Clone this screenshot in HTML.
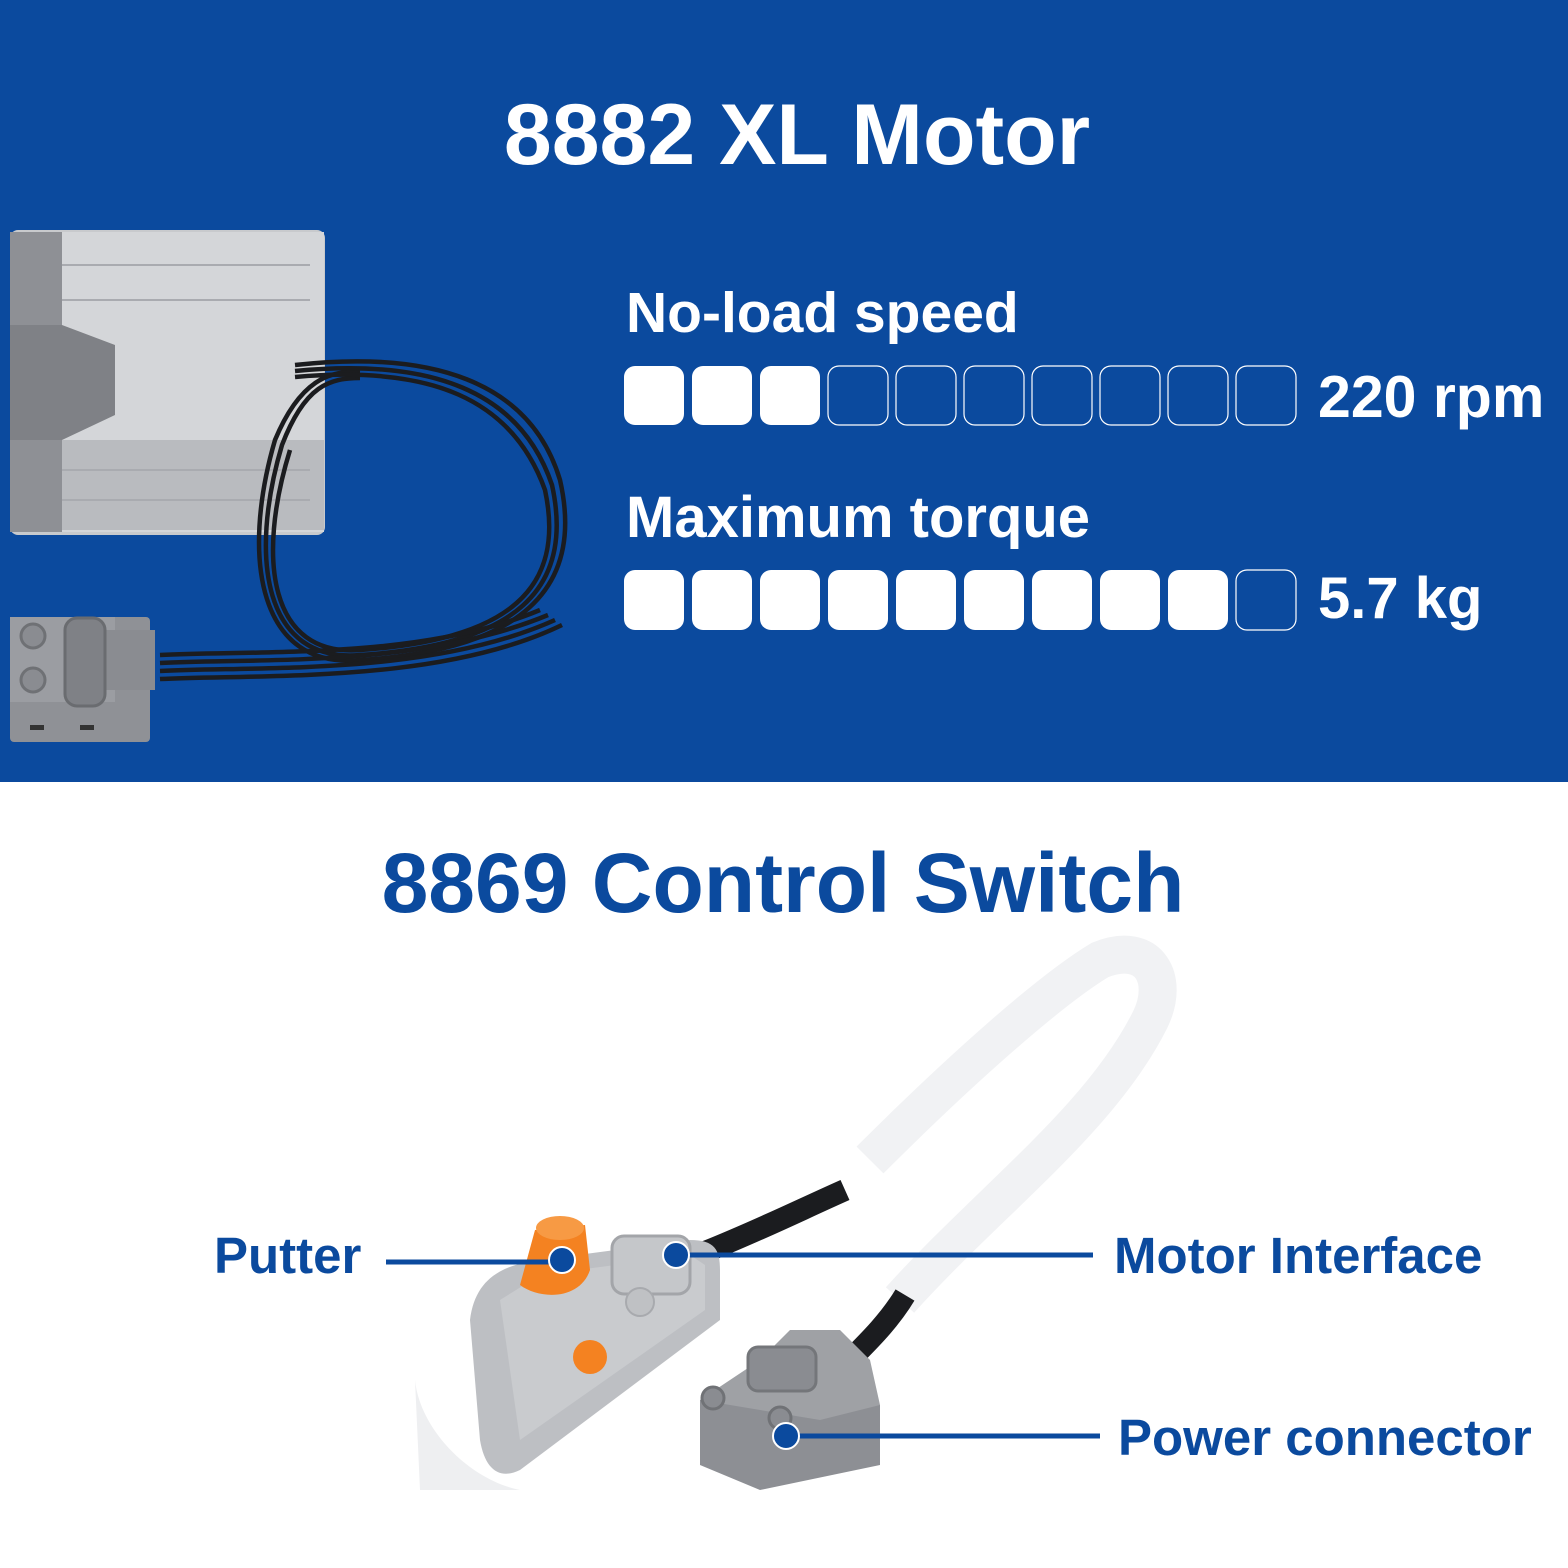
<!DOCTYPE html>
<html><head><style>
body{margin:0;width:1568px;height:1568px;position:relative;background:#fff;font-family:"Liberation Sans",sans-serif;overflow:hidden}
.top{position:absolute;left:0;top:0;width:1568px;height:782px;background:#0b4a9e}
.t{position:absolute;font-weight:bold;white-space:nowrap}
</style></head><body>
<div class="top"></div>
<div class="t" style="left:0;width:1594px;text-align:center;top:86px;font-size:86px;color:#fff">8882 XL Motor</div>
<div class="t" style="left:626px;top:280px;font-size:57px;color:#fff">No-load speed</div>
<div class="t" style="left:626px;top:484px;font-size:58px;color:#fff">Maximum torque</div>
<div class="t" style="left:1318px;top:363px;font-size:59px;color:#fff">220 rpm</div>
<div class="t" style="left:1318px;top:565px;font-size:58px;color:#fff">5.7 kg</div>
<svg width="1568" height="1568" style="position:absolute;left:0;top:0">
<g id="bars">
<g fill="#fff"><rect x="624" y="366" width="60" height="59" rx="11"/><rect x="692" y="366" width="60" height="59" rx="11"/><rect x="760" y="366" width="60" height="59" rx="11"/></g>
<g fill="none" stroke="#fff" stroke-width="1.2"><rect x="828" y="366" width="60" height="59" rx="11"/><rect x="896" y="366" width="60" height="59" rx="11"/><rect x="964" y="366" width="60" height="59" rx="11"/><rect x="1032" y="366" width="60" height="59" rx="11"/><rect x="1100" y="366" width="60" height="59" rx="11"/><rect x="1168" y="366" width="60" height="59" rx="11"/><rect x="1236" y="366" width="60" height="59" rx="11"/></g>
<g fill="#fff"><rect x="624" y="570" width="60" height="60" rx="11"/><rect x="692" y="570" width="60" height="60" rx="11"/><rect x="760" y="570" width="60" height="60" rx="11"/><rect x="828" y="570" width="60" height="60" rx="11"/><rect x="896" y="570" width="60" height="60" rx="11"/><rect x="964" y="570" width="60" height="60" rx="11"/><rect x="1032" y="570" width="60" height="60" rx="11"/><rect x="1100" y="570" width="60" height="60" rx="11"/><rect x="1168" y="570" width="60" height="60" rx="11"/></g>
<rect x="1236" y="570" width="60" height="60" rx="11" fill="none" stroke="#fff" stroke-width="1.2"/>
</g>
<!-- motor -->
<rect x="10" y="230" width="315" height="305" rx="8" fill="#c8cacd"/>
<rect x="62" y="232" width="262" height="300" fill="#d4d6d9"/>
<rect x="62" y="440" width="262" height="90" fill="#b9bbbf"/>
<g stroke="#a9abb0" stroke-width="2"><line x1="62" y1="265" x2="310" y2="265"/><line x1="62" y1="300" x2="310" y2="300"/><line x1="62" y1="470" x2="310" y2="470"/><line x1="62" y1="500" x2="310" y2="500"/></g>
<rect x="10" y="232" width="52" height="300" fill="#8e9095"/>
<path d="M10 325 H62 L115 345 V415 L62 440 H10Z" fill="#7f8186"/>
<!-- cable -->
<g fill="none" stroke="#1b1c1f" stroke-width="4.5">
<path d="M295 365 C430 350 530 380 560 480 C585 590 520 650 360 660 C260 670 240 560 275 440 C300 380 330 370 360 372"/>
<path d="M295 371 C430 358 520 390 552 485 C575 590 515 645 360 655 C265 663 248 560 282 445 C305 385 330 378 360 378"/>
<path d="M295 377 C430 365 512 398 545 490 C566 588 510 640 360 650 C270 657 256 560 290 450"/>
<path d="M160 655 C260 650 420 660 540 610"/><path d="M160 663 C260 658 420 668 548 615"/><path d="M160 671 C260 666 430 676 555 620"/><path d="M160 679 C260 674 440 684 562 625"/>
</g>
<!-- connector -->
<rect x="10" y="617" width="140" height="125" rx="4" fill="#8f9196"/>
<rect x="10" y="617" width="105" height="85" fill="#9b9da2"/>
<rect x="100" y="630" width="55" height="60" fill="#8a8c91"/>
<rect x="65" y="618" width="40" height="88" rx="12" fill="#7f8186" stroke="#6a6c70" stroke-width="3"/>
<circle cx="33" cy="636" r="12" fill="#8a8c91" stroke="#6f7175" stroke-width="3"/>
<circle cx="33" cy="680" r="12" fill="#8a8c91" stroke="#6f7175" stroke-width="3"/>
<rect x="30" y="725" width="14" height="5" fill="#333"/><rect x="80" y="725" width="14" height="5" fill="#333"/>
<!-- switch cables -->
<path d="M870 1160 C960 1070 1050 990 1100 960 C1150 940 1170 980 1150 1020 C1100 1120 990 1200 900 1300" fill="none" stroke="#f1f2f4" stroke-width="38"/>
<path d="M705 1252 C760 1230 800 1210 845 1190" fill="none" stroke="#1b1c1f" stroke-width="22"/>
<path d="M850 1360 C870 1340 890 1320 905 1295" fill="none" stroke="#1b1c1f" stroke-width="22"/>
<!-- switch body -->
<path d="M415 1380 C420 1430 470 1480 520 1490 L420 1490Z" fill="#eeeff1"/>
<path d="M470 1320 C475 1280 500 1265 540 1260 L690 1240 C715 1240 720 1250 720 1270 L720 1320 L520 1470 C500 1480 485 1470 480 1440Z" fill="#bdbfc3"/>
<path d="M500 1300 L540 1275 L690 1255 L705 1265 L705 1310 L520 1440 Z" fill="#c9cbce"/>
<rect x="612" y="1236" width="78" height="58" rx="12" fill="#c5c7ca" stroke="#a3a5a9" stroke-width="3"/>
<circle cx="640" cy="1302" r="14" fill="#bfc1c4" stroke="#a8aaae" stroke-width="2"/>
<path d="M535 1230 L585 1225 L590 1270 C580 1300 540 1300 520 1285 Z" fill="#f48221"/>
<ellipse cx="560" cy="1228" rx="24" ry="12" fill="#f79a44"/>
<circle cx="590" cy="1357" r="17" fill="#f48221"/>
<!-- power connector -->
<path d="M700 1400 L820 1380 L880 1405 L880 1465 L760 1490 L700 1465Z" fill="#8d8f94"/>
<path d="M700 1400 L760 1360 L790 1330 L840 1330 L870 1360 L880 1405 L820 1420 Z" fill="#9fa1a5"/>
<rect x="748" y="1347" width="68" height="44" rx="10" fill="#8a8c91" stroke="#74767a" stroke-width="3"/>
<circle cx="713" cy="1398" r="11" fill="#8a8c91" stroke="#707276" stroke-width="3"/>
<circle cx="780" cy="1418" r="11" fill="#8a8c91" stroke="#707276" stroke-width="3"/>
<!-- callouts -->
<g stroke="#0b4a9e" stroke-width="5"><line x1="386" y1="1262" x2="560" y2="1262"/><line x1="675" y1="1255" x2="1093" y2="1255"/><line x1="785" y1="1436" x2="1100" y2="1436"/></g>
<g fill="#0b4a9e" stroke="#fff" stroke-width="2"><circle cx="562" cy="1260" r="13"/><circle cx="676" cy="1255" r="13"/><circle cx="786" cy="1436" r="13"/></g>
</svg>
<div class="t" style="left:0;width:1566px;text-align:center;top:835px;font-size:84px;color:#0b4a9e">8869 Control Switch</div>
<div class="t" style="left:214px;top:1226px;font-size:51px;color:#0b4a9e">Putter</div>
<div class="t" style="left:1114px;top:1226px;font-size:51px;color:#0b4a9e">Motor Interface</div>
<div class="t" style="left:1118px;top:1408px;font-size:51px;color:#0b4a9e">Power connector</div>
</body></html>
